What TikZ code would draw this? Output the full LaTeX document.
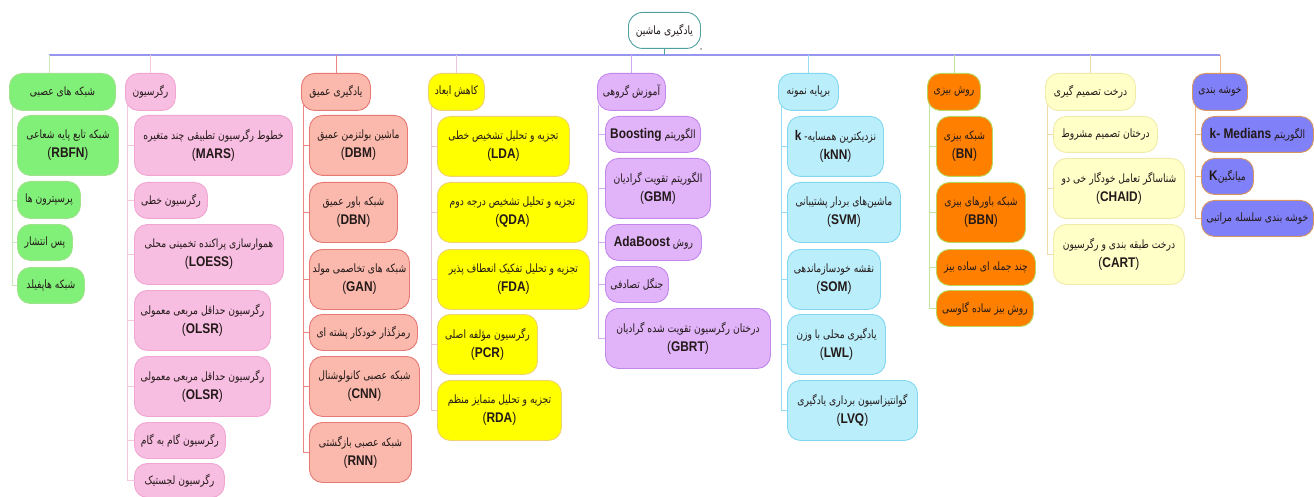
\documentclass[tikz,border=0pt]{standalone}
\usepackage{fontspec}
\setmainfont{Liberation Sans}
\newfontfamily\fa[Script=Arabic,FakeStretch=0.8]{DejaVu Sans}
\newfontfamily\en[FakeStretch=0.85]{Liberation Sans}
\TeXXeTstate=1
\usetikzlibrary{backgrounds}

\definecolor{grnF}{RGB}{128,240,120}\definecolor{grnD}{RGB}{160,225,140}\definecolor{grnL}{RGB}{200,235,190}
\definecolor{pnkF}{RGB}{248,190,225}\definecolor{pnkD}{RGB}{240,165,210}\definecolor{pnkL}{RGB}{245,200,222}
\definecolor{salF}{RGB}{250,185,172}\definecolor{salD}{RGB}{232,120,115}\definecolor{salL}{RGB}{232,135,128}
\definecolor{yelF}{RGB}{255,255,0}\definecolor{yelD}{RGB}{240,210,110}\definecolor{yelL}{RGB}{235,200,225}
\definecolor{purF}{RGB}{225,180,250}\definecolor{purD}{RGB}{195,135,235}\definecolor{purL}{RGB}{210,170,240}
\definecolor{bluF}{RGB}{185,238,250}\definecolor{bluD}{RGB}{130,215,240}\definecolor{bluL}{RGB}{150,220,245}
\definecolor{orgF}{RGB}{255,128,0}\definecolor{orgD}{RGB}{185,215,95}\definecolor{orgL}{RGB}{190,230,160}
\definecolor{lyeF}{RGB}{255,255,200}\definecolor{lyeD}{RGB}{240,235,170}\definecolor{lyeL}{RGB}{240,220,170}
\definecolor{vioF}{RGB}{128,128,248}\definecolor{vioD}{RGB}{215,150,95}\definecolor{vioL}{RGB}{240,185,140}
\definecolor{rootD}{RGB}{80,160,160}\definecolor{busC}{RGB}{150,150,238}\definecolor{ink}{RGB}{35,25,25}

\newcommand\fl[1]{\beginR#1\endR}
\newcommand\acr[1]{{\en\fontsize{14}{16}\selectfont(\textbf{#1})}}
\newcommand\lat[1]{\beginL{\en\fontsize{14}{16}\selectfont\textbf{#1}}\endL}

\tikzset{
  box/.style 2 args={draw=#2, fill=#1, rounded corners=13pt, line width=0.9pt,
    anchor=north west, inner sep=2pt, align=center, text=ink,
    font=\fa\fontsize{11.5}{14}\selectfont},
  sz/.style 2 args={minimum width=#1pt, minimum height=#2pt},
  link/.style={draw=#1, line width=0.8pt}
}

\begin{document}
\begin{tikzpicture}[x=1pt,y=-1pt]
\useasboundingbox (0,0) rectangle (1314,497);

\node[box={white}{rootD}, sz={72}{36}, rounded corners=14pt] (root) at (628,12) {\fl{یادگیری ماشین}};
\node[circle, fill=gray, inner sep=0.7pt] (mark) at (701,49) {};

\node[box={grnF}{grnD}, sz={106}{37}] (gcat) at (9,73) {\fl{شبکه های عصبی}};
\node[box={grnF}{grnD}, sz={101}{60}] (rbfn) at (17,115) {\fl{شبکه تابع پایه شعاعی}\\[5pt]\acr{RBFN}};
\node[box={grnF}{grnD}, sz={63}{37}] (perc) at (17,181) {\fl{پرسپترون ها}};
\node[box={grnF}{grnD}, sz={55}{36}] (bprop) at (17,224) {\fl{پس انتشار}};
\node[box={grnF}{grnD}, sz={67}{36}] (hopf) at (17,267) {\fl{شبکه هاپفیلد}};

\node[box={pnkF}{pnkD}, sz={50}{37}] (pcat) at (125,73) {\fl{رگرسیون}};
\node[box={pnkF}{pnkD}, sz={158}{60}] (mars) at (134,115) {\fl{خطوط رگرسیون تطبیقی چند متغیره}\\[5pt]\acr{MARS}};
\node[box={pnkF}{pnkD}, sz={73}{36}] (linr) at (134,182) {\fl{رگرسیون خطی}};
\node[box={pnkF}{pnkD}, sz={149}{60}] (loess) at (134,224) {\fl{هموارسازی پراکنده تخمینی محلی}\\[5pt]\acr{LOESS}};
\node[box={pnkF}{pnkD}, sz={136}{60}] (olsra) at (134,290) {\fl{رگرسیون حداقل مربعی معمولی}\\[5pt]\acr{OLSR}};
\node[box={pnkF}{pnkD}, sz={136}{60}] (olsrb) at (134,356) {\fl{رگرسیون حداقل مربعی معمولی}\\[5pt]\acr{OLSR}};
\node[box={pnkF}{pnkD}, sz={91}{36}] (stepw) at (134,422) {\fl{رگرسیون گام به گام}};
\node[box={pnkF}{pnkD}, sz={90}{34}] (logr) at (134,463) {\fl{رگرسیون لجستیک}};

\node[box={salF}{salD}, sz={69}{37}] (scat) at (301,73) {\fl{یادگیری عمیق}};
\node[box={salF}{salD}, sz={98}{60}] (dbm) at (309,115) {\fl{ماشین بولتزمن عمیق}\\[5pt]\acr{DBM}};
\node[box={salF}{salD}, sz={88}{60}] (dbn) at (309,182) {\fl{شبکه باور عمیق}\\[5pt]\acr{DBN}};
\node[box={salF}{salD}, sz={100}{60}] (gan) at (309,249) {\fl{شبکه های تخاصمی مولد}\\[5pt]\acr{GAN}};
\node[box={salF}{salD}, sz={108}{36}] (sae) at (309,314) {\fl{رمزگذار خودکار پشته ای}};
\node[box={salF}{salD}, sz={110}{60}] (cnn) at (309,356) {\fl{شبکه عصبی کانولوشنال}\\[5pt]\acr{CNN}};
\node[box={salF}{salD}, sz={102}{60}] (rnn) at (309,422) {\fl{شبکه عصبی بازگشتی}\\[5pt]\acr{RNN}};

\node[box={yelF}{yelD}, sz={56}{37}] (ycat) at (428,73) {\fl{کاهش ابعاد}};
\node[box={yelF}{yelD}, sz={132}{60}] (lda) at (437,116) {\fl{تجزیه و تحلیل تشخیص خطی}\\[5pt]\acr{LDA}};
\node[box={yelF}{yelD}, sz={150}{60}] (qda) at (437,182) {\fl{تجزیه و تحلیل تشخیص درجه دوم}\\[5pt]\acr{QDA}};
\node[box={yelF}{yelD}, sz={152}{60}] (fda) at (437,249) {\fl{تجزیه و تحلیل تفکیک انعطاف پذیر}\\[5pt]\acr{FDA}};
\node[box={yelF}{yelD}, sz={100}{60}] (pcr) at (437,314) {\fl{رگرسیون مؤلفه اصلی}\\[5pt]\acr{PCR}};
\node[box={yelF}{yelD}, sz={124}{60}] (rda) at (437,380) {\fl{تجزیه و تحلیل متمایز منظم}\\[5pt]\acr{RDA}};

\node[box={purF}{purD}, sz={68}{37}] (ucat) at (597,73) {\fl{آموزش گروهی}};
\node[box={purF}{purD}, sz={95}{36}] (boost) at (605,116) {\fl{الگوریتم \lat{Boosting}}};
\node[box={purF}{purD}, sz={105}{60}] (gbm) at (605,158) {\fl{الگوریتم تقویت گرادیان}\\[5pt]\acr{GBM}};
\node[box={purF}{purD}, sz={96}{36}] (ada) at (605,224) {\fl{روش \lat{AdaBoost}}};
\node[box={purF}{purD}, sz={63}{36}] (rf) at (605,266) {\fl{جنگل تصادفی}};
\node[box={purF}{purD}, sz={165}{60}] (gbrt) at (605,308) {\fl{درختان رگرسیون تقویت شده گرادیان}\\[5pt]\acr{GBRT}};

\node[box={bluF}{bluD}, sz={60}{37}] (bcat) at (778,73) {\fl{برپایه نمونه}};
\node[box={bluF}{bluD}, sz={96}{60}] (knn) at (787,116) {\fl{نزدیکترین همسایه- \lat{k}}\\[5pt]\acr{kNN}};
\node[box={bluF}{bluD}, sz={113}{60}] (svm) at (787,182) {\fl{ماشین‌های بردار پشتیبانی}\\[5pt]\acr{SVM}};
\node[box={bluF}{bluD}, sz={93}{60}] (som) at (787,249) {\fl{نقشه خودسازماندهی}\\[5pt]\acr{SOM}};
\node[box={bluF}{bluD}, sz={98}{60}] (lwl) at (787,314) {\fl{یادگیری محلی با وزن}\\[5pt]\acr{LWL}};
\node[box={bluF}{bluD}, sz={130}{60}] (lvq) at (787,380) {\fl{گوانتیزاسیون برداری یادگیری}\\[5pt]\acr{LVQ}};

\node[box={orgF}{orgD}, sz={53}{37}] (ocat) at (927,73) {\fl{روش بیزی}};
\node[box={orgF}{orgD}, sz={56}{60}] (bn) at (936,116) {\fl{شبکه بیزی}\\[5pt]\acr{BN}};
\node[box={orgF}{orgD}, sz={89}{60}] (bbn) at (936,182) {\fl{شبکه باورهای بیزی}\\[5pt]\acr{BBN}};
\node[box={orgF}{orgD}, sz={99}{36}] (mnb) at (936,249) {\fl{چند جمله ای ساده بیز}};
\node[box={orgF}{orgD}, sz={97}{36}] (gnb) at (936,290) {\fl{روش بیز ساده گاوسی}};

\node[box={lyeF}{lyeD}, sz={90}{37}] (dcat) at (1045,73) {\fl{درخت تصمیم گیری}};
\node[box={lyeF}{lyeD}, sz={104}{36}] (ctree) at (1053,116) {\fl{درختان تصمیم مشروط}};
\node[box={lyeF}{lyeD}, sz={131}{60}] (chaid) at (1053,158) {\fl{شناساگر تعامل خودگار خی دو}\\[5pt]\acr{CHAID}};
\node[box={lyeF}{lyeD}, sz={131}{60}] (cart) at (1053,224) {\fl{درخت طبقه بندی و رگرسیون}\\[5pt]\acr{CART}};

\node[box={vioF}{vioD}, sz={55}{37}] (kcat) at (1192,73) {\fl{خوشه بندی}};
\node[box={vioF}{vioD}, sz={112}{36}] (kmed) at (1201,116) {\fl{الگوریتم \lat{k- Medians}}};
\node[box={vioF}{vioD}, sz={52}{36}] (kmean) at (1201,158) {\fl{میانگین\lat{K}}};
\node[box={vioF}{vioD}, sz={112}{36}] (hclus) at (1201,200) {\fl{خوشه بندی سلسله مراتبی}};

\begin{scope}[on background layer]
\coordinate (busL) at (49,55);
\draw[link=busC, line width=1.1pt] (busL) -- (kcat.north |- busL);
\draw[link=rootD] (root) -- (root |- busL);
\draw[link=grnL] (busL) -- (busL |- gcat.north);
\foreach \c/\k in {pcat/pnkL,scat/salL,ycat/yelL,ucat/purL,bcat/bluL,ocat/orgL,dcat/lyeL,kcat/vioL}
  \draw[link=\k] (\c.north |- busL) -- (\c.north);

\coordinate (gt) at (12,105);
\coordinate (pt) at (127,105);
\coordinate (st) at (303,105);
\coordinate (yt) at (431,105);
\coordinate (ut) at (598,105);
\coordinate (bt) at (781,105);
\coordinate (ot) at (929,105);
\coordinate (dt) at (1047,105);
\coordinate (kt) at (1195,105);
\foreach \n in {rbfn,perc,bprop,hopf} \draw[link=grnL] (gt) |- (\n.west);
\foreach \n in {mars,linr,loess,olsra,olsrb,stepw,logr} \draw[link=pnkL] (pt) |- (\n.west);
\foreach \n in {dbm,dbn,gan,sae,cnn,rnn} \draw[link=salL] (st) |- (\n.west);
\foreach \n in {lda,qda,fda,pcr,rda} \draw[link=yelL] (yt) |- (\n.west);
\foreach \n in {boost,gbm,ada,rf,gbrt} \draw[link=purL] (ut) |- (\n.west);
\foreach \n in {knn,svm,som,lwl,lvq} \draw[link=bluL] (bt) |- (\n.west);
\foreach \n in {bn,bbn,mnb,gnb} \draw[link=orgL] (ot) |- (\n.west);
\foreach \n in {ctree,chaid,cart} \draw[link=lyeL] (dt) |- (\n.west);
\foreach \n in {kmed,kmean,hclus} \draw[link=vioL] (kt) |- (\n.west);
\end{scope}
\end{tikzpicture}
\end{document}
